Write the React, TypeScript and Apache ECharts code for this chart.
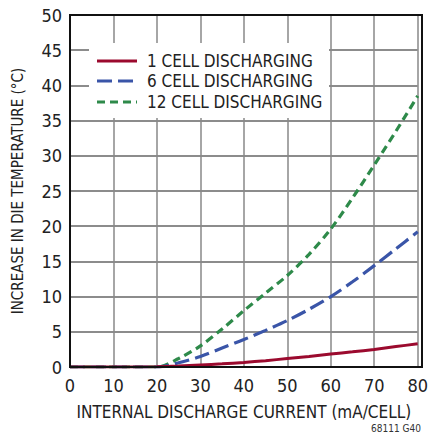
import React, { useEffect, useRef } from "react";
import * as echarts from "echarts";

const xValues = [0, 10, 20, 25, 30, 35, 40, 45, 50, 55, 60, 65, 70, 75, 80];
const oneCell = [0, 0, 0.05, 0.15, 0.3, 0.45, 0.65, 0.9, 1.2, 1.5, 1.85, 2.15, 2.5, 2.9, 3.3];
const sixCell = [0, 0, 0, 0.6, 1.5, 2.7, 3.9, 5.2, 6.6, 8.2, 10.0, 12.1, 14.4, 16.8, 19.2];
const twelveCell = [0, 0, 0, 1.2, 3.0, 5.4, 8.0, 10.5, 13.0, 16.0, 19.6, 24.0, 28.7, 33.5, 38.5];
const seriesNames = ["1 CELL DISCHARGING", "6 CELL DISCHARGING", "12 CELL DISCHARGING"];
const seriesColors = ["#9b0a2e", "#3a55a8", "#2e8a4a"];
const seriesDash: (number[] | null)[] = [null, [15, 6], [8, 5]];

const FONT = "'Liberation Sans Narrow', 'DejaVu Sans Condensed', 'Liberation Sans', sans-serif";

export default function App() {
  const ref = useRef<HTMLDivElement>(null);
  useEffect(() => {
    const chart = echarts.init(ref.current!, null, { renderer: "svg" });
    const pairs = (ys: number[]) => xValues.map((x, i) => [x, ys[i]]);
    const legendRows = [61, 81, 102];
    const legendGraphics: any[] = [
      {
        type: "rect",
        shape: { x: 89, y: 43, width: 240, height: 75 },
        style: { fill: "#fff" },
        z: 50,
        silent: true,
      },
    ];
    seriesNames.forEach((name, i) => {
      legendGraphics.push({
        type: "line",
        shape: { x1: 97, y1: legendRows[i], x2: 137, y2: legendRows[i] },
        style: {
          stroke: seriesColors[i],
          lineWidth: 3.2,
          lineDash: seriesDash[i] || undefined,
        },
        z: 51,
        silent: true,
      });
      legendGraphics.push({
        type: "text",
        x: 147,
        y: legendRows[i],
        style: {
          text: name,
          fontFamily: FONT,
          fontSize: 17,
          fill: "#222",
          verticalAlign: "middle",
        },
        z: 51,
        silent: true,
      });
    });

    chart.setOption({
      animation: false,
      backgroundColor: "#fff",
      textStyle: { fontFamily: FONT },
      grid: { left: 70, right: 9, top: 15, bottom: 69 },
      xAxis: {
        type: "value",
        min: 0,
        max: 80,
        interval: 10,
        name: "INTERNAL DISCHARGE CURRENT (mA/CELL)",
        nameLocation: "middle",
        nameGap: 36,
        nameTextStyle: { fontFamily: FONT, fontSize: 17, color: "#222" },
        axisLine: { show: true, lineStyle: { color: "#111", width: 2 } },
        axisTick: { show: false },
        axisLabel: { fontFamily: FONT, fontSize: 18, color: "#222", margin: 9 },
        splitLine: { show: true, lineStyle: { color: "#888", width: 1.5 } },
      },
      yAxis: {
        type: "value",
        min: 0,
        max: 50,
        interval: 5,
        name: "INCREASE IN DIE TEMPERATURE (°C)",
        nameLocation: "middle",
        nameGap: 45,
        nameTextStyle: { fontFamily: FONT, fontSize: 15, color: "#222" },
        axisLine: { show: true, lineStyle: { color: "#111", width: 2 } },
        axisTick: { show: false },
        axisLabel: { fontFamily: FONT, fontSize: 18, color: "#222", margin: 8 },
        splitLine: { show: true, lineStyle: { color: "#666", width: 1.5 } },
      },
      graphic: [
        ...legendGraphics,
        {
          type: "rect",
          shape: { x: 70, y: 15, width: 352, height: 352 },
          style: { fill: "none", stroke: "#111", lineWidth: 2 },
          z: 100,
          silent: true,
        },
        {
          type: "text",
          right: 10,
          top: 423,
          style: { text: "68111 G40", fontFamily: FONT, fontSize: 10, fill: "#333" },
        },
      ],
      series: [
        {
          name: seriesNames[0],
          type: "line",
          smooth: 0.3,
          symbol: "none",
          data: pairs(oneCell),
          lineStyle: { color: seriesColors[0], width: 3, type: "solid" },
          itemStyle: { color: seriesColors[0] },
          z: 5,
        },
        {
          name: seriesNames[1],
          type: "line",
          smooth: 0.3,
          symbol: "none",
          data: pairs(sixCell),
          lineStyle: { color: seriesColors[1], width: 3.2, type: seriesDash[1] },
          itemStyle: { color: seriesColors[1] },
          z: 4,
        },
        {
          name: seriesNames[2],
          type: "line",
          smooth: 0.3,
          symbol: "none",
          data: pairs(twelveCell),
          lineStyle: { color: seriesColors[2], width: 3.2, type: seriesDash[2] },
          itemStyle: { color: seriesColors[2] },
          z: 3,
        },
      ],
    });
    return () => chart.dispose();
  }, []);
  return <div ref={ref} style={{ width: 431, height: 436, position: "absolute", left: 0, top: 0 }} />;
}
